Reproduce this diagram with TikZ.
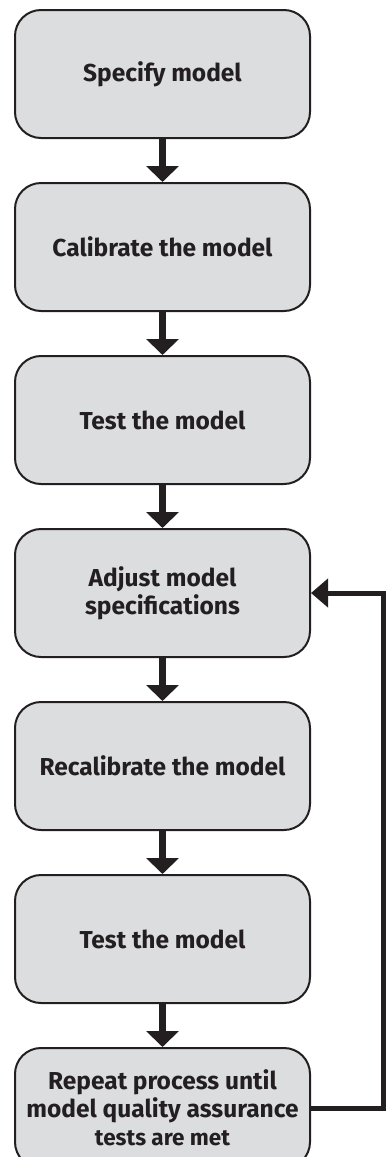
\documentclass[tikz,border=0pt]{standalone}
\usepackage{fontspec}
\setmainfont{Fira Sans}
\newfontfamily\boxfont{Fira Sans}
\usetikzlibrary{arrows.meta, positioning}
\definecolor{boxgray}{RGB}{220,221,223}
\definecolor{ink}{RGB}{35,31,32}

\begin{document}
\begin{tikzpicture}[x=1pt, y=-1pt,
  stepbox/.style={draw=ink, line width=2pt, fill=boxgray, rounded corners=26pt,
    minimum width=295pt, minimum height=128pt, align=center, text=ink,
    font=\boxfont\bfseries\fontsize{24.5}{28}\selectfont},
  flowarrow/.style={draw=ink, line width=7pt, -{Triangle[width=32pt, length=16pt]}},
  loopline/.style={draw=ink, line width=5pt, -{Triangle[width=28pt, length=17pt]}}]
  \useasboundingbox (0,0) rectangle (386,1157);
  \node[stepbox] (s1) at (162.5,74) {Specify model};
  \node[stepbox, below=43pt of s1] (s2) {Calibrate the model};
  \node[stepbox, below=43pt of s2] (s3) {Test the model};
  \node[stepbox, below=43pt of s3] (s4) {Adjust model\\specifications};
  \node[stepbox, below=43pt of s4] (s5) {Recalibrate the model};
  \node[stepbox, below=43pt of s5] (s6) {Test the model};
  \node[stepbox, below=43pt of s6, minimum height=120pt] (s7)
    {Repeat process until\\model quality assurance\\{\fontsize{22.5}{26}\selectfont tests are met}};
  \foreach \a/\b in {s1/s2, s2/s3, s3/s4, s4/s5, s5/s6, s6/s7}
    \draw[flowarrow] (\a.south) -- (\b.north);
  % loop back from the last step
  \coordinate (rt) at (383,0);
  \draw[loopline] (s7.east) -- (s7.east -| rt) -- (s4.east -| rt) -- (s4.east);
\end{tikzpicture}
\end{document}
